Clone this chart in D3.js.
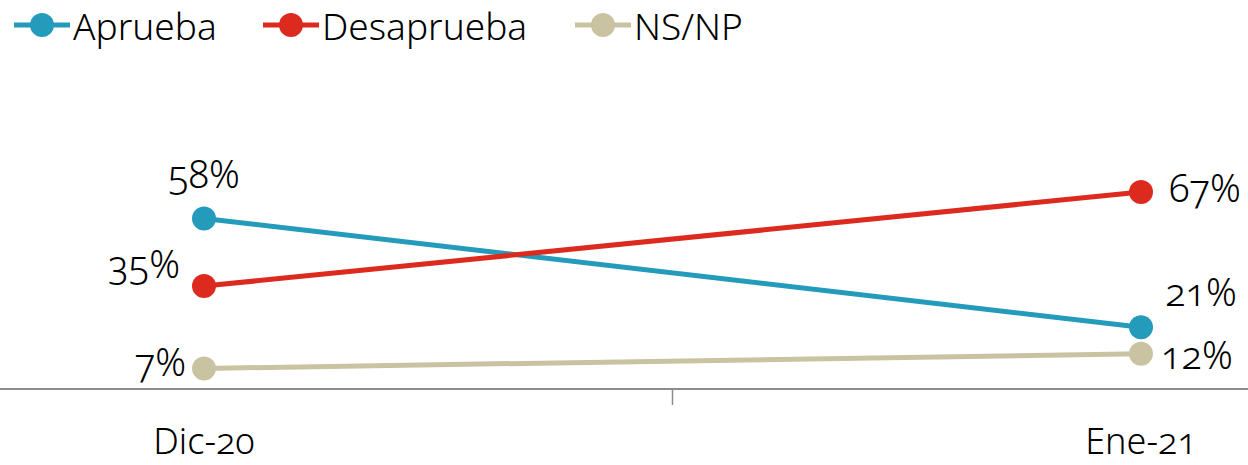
<!DOCTYPE html>
<html>
<head>
<meta charset="utf-8">
<script src="https://cdn.jsdelivr.net/npm/d3@7"></script>
<style>
  body { margin: 0; background: #fff; }
  svg text { font-family: "Noto Sans", sans-serif; font-weight: 300; font-stretch: 92%; font-variant-numeric: oldstyle-nums; font-feature-settings: "onum" 1; fill: #000; }
</style>
</head>
<body>
<svg id="chart" width="1248" height="465"></svg>
<script>
'use strict'
// chart data
var categories = ["Dic-20", "Ene-21"];
var seriesNames = ["Aprueba", "Desaprueba", "NS/NP"];
var aprueba = [58, 21];
var desaprueba = [35, 67];
var nsnp = [7, 12];
var colors = ["#249bbb", "#dc2a1f", "#cac3a2"];

var series = [
	{ name: seriesNames[0], values: aprueba, color: colors[0] },
	{ name: seriesNames[1], values: desaprueba, color: colors[1] },
	{ name: seriesNames[2], values: nsnp, color: colors[2] }
];

// label placement per series/point: [dx, dy, anchor]
var labelPos = [
	[[0, -30, "middle"], [60, -21, "middle"]],
	[[-24, -8, "end"], [28, 10, "start"]],
	[[-18, 8, "end"], [20, 15, "start"]]
];

var svg = d3.select("#chart");

var x = d3.scalePoint().domain(categories).range([204, 1141]);
var y = d3.scaleLinear().domain([0, 100]).range([389, 95]);

// axis line and middle tick
svg.append("line")
	.attr("x1", 0).attr("x2", 1248)
	.attr("y1", y(0)).attr("y2", y(0))
	.attr("stroke", "#8c8c8c").attr("stroke-width", 2);
var mid = (x(categories[0]) + x(categories[1])) / 2;
svg.append("line")
	.attr("x1", mid).attr("x2", mid)
	.attr("y1", y(0)).attr("y2", y(0) + 16)
	.attr("stroke", "#8c8c8c").attr("stroke-width", 1.5);

// category labels
svg.selectAll(".cat").data(categories).enter()
	.append("text")
	.attr("class", "cat")
	.attr("x", function(d){ return x(d); })
	.attr("y", 454)
	.attr("text-anchor", "middle")
	.style("font-size", "36px")
	.text(function(d){ return d; });

var line = d3.line()
	.x(function(d, i){ return x(categories[i]); })
	.y(function(d){ return y(d); });

var g = svg.selectAll(".series").data(series).enter().append("g").attr("class", "series");

g.append("path")
	.attr("d", function(d){ return line(d.values); })
	.attr("fill", "none")
	.attr("stroke", function(d){ return d.color; })
	.attr("stroke-width", 5);

g.selectAll("circle").data(function(d){ return d.values.map(function(v){ return { v: v, color: d.color }; }); })
	.enter().append("circle")
	.attr("cx", function(d, i){ return x(categories[i]); })
	.attr("cy", function(d){ return y(d.v); })
	.attr("r", 12)
	.attr("fill", function(d){ return d.color; });

// data labels
g.each(function(d, si){
	d3.select(this).selectAll(".lbl").data(d.values).enter()
		.append("text")
		.attr("class", "lbl")
		.attr("x", function(v, i){ return x(categories[i]) + labelPos[si][i][0]; })
		.attr("y", function(v, i){ return y(v) + labelPos[si][i][1]; })
		.attr("text-anchor", function(v, i){ return labelPos[si][i][2]; })
		.style("font-size", "38px")
		.text(function(v){ return v + "%"; });
});

// legend
var legendX = [14, 263, 575];
var lg = svg.selectAll(".legend").data(series).enter()
	.append("g")
	.attr("class", "legend")
	.attr("transform", function(d, i){ return "translate(" + legendX[i] + ",25)"; });
lg.append("line")
	.attr("x1", 0).attr("x2", 56)
	.attr("stroke", function(d){ return d.color; })
	.attr("stroke-width", 5);
lg.append("circle")
	.attr("cx", 28).attr("r", 12)
	.attr("fill", function(d){ return d.color; });
lg.append("text")
	.attr("x", 59).attr("y", 15)
	.style("font-size", "37px")
	.text(function(d){ return d.name; });
</script>
</body>
</html>
